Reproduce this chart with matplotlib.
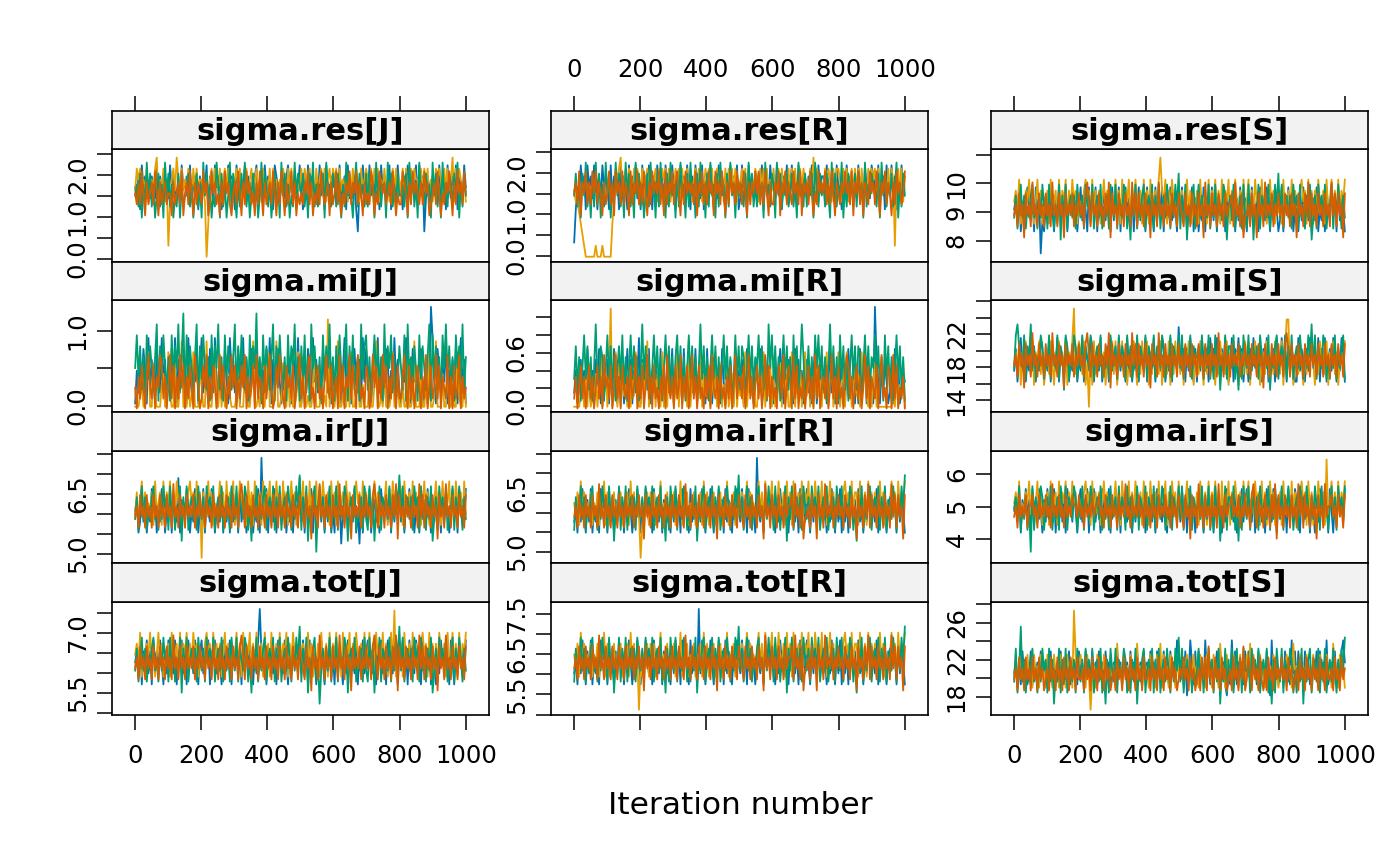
import numpy as np
import matplotlib
matplotlib.use("Agg")
import matplotlib.pyplot as plt

# ---------------------------------------------------------------------------
# Data: MCMC traces (4 chains, iterations 1..1000)
# at ~5-iteration resolution.  Each string holds levels 0..9 that span the
# visible data envelope (lo, hi) of its panel; each chain sits slightly
# offset (in fractions of one level).
# ---------------------------------------------------------------------------
chain_names = ["chain 1", "chain 2", "chain 3", "chain 4"]
chain_colors = ["#0072B2", "#E69F00", "#009E73", "#D55E00"]
chain_level_offsets = [0.15, -0.15, 0.4, -0.4]
n_iter = 1000
x_ticks = [0, 200, 400, 600, 800, 1000]

res_J_range = (0.095, 2.455)
res_J = [
    "6574867565 7658476576 5867657486 6758567647 5768476586 7645768576 4867568675 6578467586 7564876567 5786657468 "
    "6475867657 5867486576 7658567485 6574265867 5867657486 7568476586 6475867658 5867257657 6758567486 5768476586",
    "6878576857 7689576857 1578697586 7687586867 7650378687 6857868576 7868576857 8578675867 6858675768 7586858676 "
    "8687586758 6786857868 7858676857 6868758678 7586868576 8675786857 6858678687 7586868575 6878758686 7958687675",
    "5647364857 4635746385 7463547364 5574635746 3857463548 6374635847 5364758463 5746358476 4635746385 7463548576 "
    "5746375846 4657385647 6475364857 5368475647 4756385746 6385746475 5647385746 3856475638 5746385647 6475836475",
    "6575864756 7586475675 6647567584 6758647576 5867458675 6475867546 7586475867 5647586475 6758647586 4756857465 "
    "6576857465 7586567475 6857465768 5768576475 6587465876 7567586465 5876475867 6575867456 7586465768 6475867586",
]
res_R_range = (0.022, 2.41)
res_R = [
    "1465867486 7586475867 6485767485 7648576857 4867586475 8657486758 6475867586 4758675846 7586475867 6475867584 "
    "5867486757 6758476586 7586547685 6857486576 5768475867 7586657486 6475867657 5867486758 7658567486 6857475867",
    "6554321000 0001000100 0003587896 7868758687 6857868678 5868786857 6878586786 8578687568 7868578687 5868786857 "
    "6878586768 7586868576 8678586758 6858678687 7586968576 6878758688 7586857868 6858675868 7868586758 6871786857",
    "5746375846 3748573648 5736485746 3857463857 4635748563 7485637485 6374856374 8563748563 7485637485 6374856375 "
    "5647385746 4756385647 6385746574 5746385647 4657386475 6475385746 5836475647 4756384657 6547385746 5746836475",
    "6758476857 5868576475 6857486758 5764857685 7586475867 6857485768 5786475867 6758476857 5867486758 6475867586 "
    "7586475768 6857586475 5768476857 6586758476 7586465867 6857586476 5768675847 6857476586 7586476857 6475867568",
]
res_S_range = (7.5, 10.95)
res_S = [
    "4536243564 3526450324 5364253645 3625463524 6354263546 2534635426 3546253645 3625463542 6354263546 2534635426 "
    "4635243625 5243625436 3625436254 4352536425 2536435264 5364253642 3625463524 4253645362 5362435264 3645263542",
    "5647354657 4635746354 6374563746 5736475635 5467563746 4635746354 5746374657 3647546374 6374563796 5736475637 "
    "4635746354 6374563746 5746374657 3647546374 5736475637 4635746354 6374563746 5467563746 3647546374 5746374657",
    "3524635243 5634253645 2635243615 3624535264 3526453624 5362435264 3625436524 1536243562 4536253624 5364253647 "
    "2536143562 4635253624 3625436514 5362435263 2635143625 4536253647 3624535264 5263425361 3526453624 4625364253",
    "4536452645 3745364536 4537453645 2645463546 4536753645 3645364726 4536453645 3746364536 4526453745 3645364536 "
    "5436453645 3645274536 4536453645 5637453624 4536452645 3745463546 4536453645 2645364736 4536453645 3746364526",
]
mi_J_range = (0.012, 1.32)
mi_J = [
    "0314253061 4205316240 3152604135 2063142503 6142053162 0431520634 1250361420 5316240315 2604135203 3142053162 "
    "0241530624 1305241603 2415036214 0352140625 3104526130 2540316241 0326140523 1450230196 2053142603 1425036140",
    "0001200350 0410002300 5100400260 0030150004 2006100350 0402003100 0150003400 2600104003 5000260014 0030200150 "
    "0400100250 0030108040 0260010030 5001400200 0300260010 4000150030 0200400160 0030020500 1600030040 0200510030",
    "3625140625 3147052631 4062537148 0625314705 2631406253 7140625314 7052631406 2538140625 3147052631 4062537140 "
    "5261407352 1406253714 0526314705 2613407256 1403625140 7253614025 3160724153 0625314706 2514063725 1406352714",
    "2031420352 1403254130 2514031524 0314205320 1425031420 3514203152 4031425031 2405132041 3520142531 0423140235 "
    "1302451203 4120352140 2305140325 1420531204 3015240315 2403152041 1352041302 4203150241 2514032150 3041250312",
]
mi_R_range = (0.01, 1.12)
mi_R = [
    "1302413052 0314250312 4031520413 0251403126 0413250314 2051304125 0314205130 4125031420 5130241305 2031420513 "
    "1402531204 3150241302 0413520314 2305141302 4120350241 1302514030 2410352140 3051240312 0942031420 1305240132",
    "0000120304 0103025014 0390150403 1204031520 0413602140 3105020413 0250314206 0314025031 4203150240 2040130502 "
    "1305024130 0241503140 3012405130 0520314025 1403025140 3150240315 0240513042 1305241030 2400000000 0010302140",
    "2514036251 4037215403 6251403526 1403625140 3725140362 5140362514 0462514036 2514037251 4036251403 6251402625 "
    "1540362514 3625140736 2514036251 4062513740 2514063625 1403725140 6251403625 1540362514 3625140625 1403625140",
    "1302413024 1302413052 3140251304 2130412503 1402513041 2031405213 0412503140 2513041203 1405213041 2031402513 "
    "3140251302 4130251403 1204315024 3051402130 2413051402 3140251304 1203541302 4130251403 2140351204 3051402130",
]
mi_S_range = (13.4, 25.3)
mi_S = [
    "3524635243 6352436524 3625436254 3652436524 3625436524 5362435263 4526354263 5243625436 2543625436 5243625437 "
    "4352536425 2536435264 5364253642 3625463524 4253645362 5362435264 3645263542 2635425364 4536253624 5364253642",
    "4536253645 3625463524 5364253645 3625469356 5362405263 5463524536 3625463524 5364253645 6253645362 4536253645 "
    "3625463524 5364253645 4253645362 5463524536 3625463524 5364253645 3625883524 5364253645 4253645362 5463524536",
    "3675436254 7352436524 3625436254 1652436524 3625436524 5362435263 4526354263 5243625436 2543625436 5243625436 "
    "3625436254 4536253624 2635143625 5362415264 3624535264 2536143562 4536253624 5364253647 3625436524 2536243562",
    "4536452645 3745364536 4537453645 2645463546 4536753645 3645364726 4536453645 3746364536 4526453745 3645364536 "
    "4536453645 3645364536 4537453645 3645463546 4536453645 2645364536 4536753645 3645364536 4536453645 3645364536",
]
ir_J_range = (4.95, 7.4)
ir_J = [
    "4523635243 6352436524 3625437254 3652436524 3625436524 5362435263 4526354263 5243629436 2543625436 5243625437 "
    "3625436254 4536253624 2635143625 5362415264 3624535264 4536253645 3625463524 5264536425 3645263542 4635264536",
    "4635746354 6374563746 5736475635 5467563746 0635746354 5746374657 3647546374 6374563746 5736475637 4635746354 "
    "5746374657 3647546374 6374563746 5467563746 4635746354 5736475637 6374563746 4635746354 5746374657 3647546374",
    "3524635243 5634253645 2635243615 3624535264 3526453624 5362435264 3625436524 1536243562 4536253624 5364253647 "
    "2536143560 4635253624 3625436514 5362435263 2635143625 4536253647 3624535264 5263425361 3526453624 4625364253",
    "4536453645 3645364536 4537453645 3645463546 4536453645 3645364536 4536753645 3645364536 4536453645 3645364536 "
    "5436452645 3745364536 4537453645 2645463546 4536753645 3645364726 4536453645 3746364536 4526453745 3645364536",
]
ir_R_range = (4.9, 7.39)
ir_R = [
    "3425364253 6243526435 2634253645 2536425364 2536435264 5362543425 3645263542 6354253642 5364253645 2635425364 "
    "3645263542 9435264536 4253645362 5463526453 6425364536 3425364253 6243526435 2634253645 5362543425 3645263542",
    "5463746354 6354635473 6354635463 5463746354 0354636463 5473546354 6354735463 5463546374 6354635463 5473546354 "
    "4635746354 5746374657 3647546374 6374563746 5736475637 4635746354 5467563746 6374563746 4635746354 5746374657",
    "2534635243 5634253645 2635143625 3624535264 3526453624 5362415264 3625436524 2536143562 4536253624 5364253647 "
    "3524635243 5634253645 2635243615 3624535264 3526453624 5362435264 3625436524 1536243562 4536253624 5364253647",
    "4536453645 3645374536 4536453645 3645463546 4526453645 3645364536 4536453745 3645364536 4536452645 3645364536 "
    "5436453645 3645274536 4536453645 5637453624 4536452645 3745463546 4536453645 2645364736 4536453645 3746364526",
]
ir_S_range = (3.47, 6.5)
ir_S = [
    "4536254635 2645364253 6453625463 5264536425 6354625463 5426354625 4635264536 4253645362 5463526453 6425364536 "
    "3645263542 5364253645 2635425364 4536254635 6453625463 5264536425 4635264536 5426354625 4253645362 6425364536",
    "5647354657 4635746354 6374563746 5736475635 5467563746 4635746354 5746374657 3647546374 6374563746 5736475637 "
    "4635746354 6374563746 5746374657 3647546374 5736475637 4635746354 6374563746 5467563746 3647546394 5746374657",
    "4536243524 0625436524 5362435264 3625436524 3625436524 5362435263 4526354263 5243625436 2543625436 5243625436 "
    "3625436254 4536253624 2635143625 5362415264 3624535264 4536253645 3625463524 5264536425 3645263542 4635264536",
    "4536454635 5645364546 4537454645 3645465546 4536454645 5645364536 4536454745 3645464536 4536453645 4645364536 "
    "5436452645 3745364536 4537453645 5645463546 4536753645 3645364726 4536453645 3746364536 4526453745 5645364536",
]
tot_J_range = (5.12, 7.6)
tot_J = [
    "4536254635 2645364253 6453625463 5264536425 6354625463 5426354625 4635264536 4253695362 5463526453 6425364536 "
    "3645263542 5364253645 2635425364 4536254635 6453625463 5264536425 4635264536 5426354625 4253645362 6425364536",
    "5647354657 4635746354 6374563746 5736475635 5467563746 4635746354 5746374657 3647546374 6374563746 5736475637 "
    "4635746354 6374563746 5746374657 3647546374 5736475637 4635749354 6374563746 5467563746 3647546374 5746374657",
    "3524635243 5634253645 2635243615 3624535264 3526453624 5362435264 3625436524 1536243562 4536253624 5364253647 "
    "2536143562 4035253624 3625436514 5362435263 2635143625 4536253647 3624535264 5263425361 3526453624 4625364253",
    "4536453645 3645364536 4537453645 3645463546 4536453645 3645364536 4536753645 3645364536 4536453645 3645364536 "
    "5436452645 3745364536 4537453645 2645463546 4536753645 3645364726 4536453645 3746364536 4526453745 3645364536",
]
tot_R_range = (5.16, 7.62)
tot_R = [
    "3425364253 6243526435 2634253645 2536425364 2536435264 5362543425 3645263542 6354293642 5364253645 2635425364 "
    "3645263542 4435264536 4253645362 5463526453 6425364536 3425364253 6243526435 2634253645 5362543425 3645263542",
    "5463746354 6354635473 6354635463 5463746350 4354636463 5473546354 6354735463 5463546374 6354635463 5473546354 "
    "4635746354 5746374657 3647546374 6374563746 5736475637 4635746354 5467563746 6374563746 4635746354 5746374657",
    "2534635243 5634253645 2635143625 3624535264 3526453624 5362415264 3625436524 2536143562 4536253624 5364253647 "
    "3524635243 5634253645 2635243615 3624535264 3526453624 5362435264 3625436524 1536243562 4536253624 5364253647",
    "4536453645 3645374536 4536453645 3645463546 4526453645 3645364536 4536453745 3645364536 4536452645 3645364536 "
    "5436453645 3645274536 4536453645 5637453624 4536452645 3745463546 4536453645 2645364736 4536453645 3746364526",
]
tot_S_range = (16.8, 27.5)
tot_S = [
    "3424253423 5243425342 4352434253 2435243425 3425342534 2534253423 4253425342 5342534253 4253425342 5342534264 "
    "3425136425 2534263423 4352534213 2635243425 3524342534 4253162342 3425342635 2534253423 4352534262 3425243564",
    "3524534253 4253425342 5342534253 4253429534 5342530342 5342534253 4263425342 5342634253 4253425362 5342534253 "
    "3524534253 4253425342 5342634253 4253425342 5362534253 4253425342 3524534263 4253425342 5342534253 4263425342",
    "2513724132 4523142534 1524032514 2513424153 2415342513 4251304153 2514325413 1425032451 3425142513 4253142536 "
    "2513424132 3524142534 1425032514 2513524153 3415342513 4251304153 2514325413 1425032451 3425142513 4253142536",
    "3425342534 2534253423 4253425342 5342534253 3425342534 2534253423 4253425342 5342534253 3425342534 2534253423 "
    "4353425342 3425352634 2534253423 4253425362 3542534253 2425342534 3534253423 4253425342 5342534253 3425342534",
]

param_names = ["sigma.res", "sigma.mi", "sigma.ir", "sigma.tot"]
group_names = ["J", "R", "S"]

panel_data = [
    [(res_J, res_J_range), (res_R, res_R_range), (res_S, res_S_range)],
    [(mi_J, mi_J_range), (mi_R, mi_R_range), (mi_S, mi_S_range)],
    [(ir_J, ir_J_range), (ir_R, ir_R_range), (ir_S, ir_S_range)],
    [(tot_J, tot_J_range), (tot_R, tot_R_range), (tot_S, tot_S_range)],
]

# y-axis ticks per panel (tick values, labels shown)
y_ticks = [
    [([0, 0.5, 1, 1.5, 2, 2.5], ["0.0", "", "1.0", "", "2.0", ""]),
     ([0, 0.5, 1, 1.5, 2, 2.5], ["0.0", "", "1.0", "", "2.0", ""]),
     ([8, 9, 10, 11], ["8", "9", "10", ""])],
    [([0, 0.5, 1.0], ["0.0", "", "1.0"]),
     ([0, 0.2, 0.4, 0.6, 0.8, 1.0], ["0.0", "", "", "0.6", "", ""]),
     ([14, 16, 18, 20, 22, 24, 26], ["14", "", "18", "", "22", "", ""])],
    [([5, 5.5, 6, 6.5, 7, 7.5], ["5.0", "", "", "6.5", "", ""]),
     ([5, 5.5, 6, 6.5, 7, 7.5], ["5.0", "", "", "6.5", "", ""]),
     ([4, 5, 6], ["4", "5", "6"])],
    [([5, 5.5, 6, 6.5, 7, 7.5], ["", "5.5", "", "", "7.0", ""]),
     ([5, 5.5, 6, 6.5, 7, 7.5], ["", "5.5", "", "6.5", "", "7.5"]),
     ([18, 20, 22, 24, 26, 28], ["18", "", "22", "", "26", ""])],
]


def decode(levels, rng, offset=0.0):
    d = np.array([int(c) for c in levels if c.isdigit()], dtype=float)
    lo, hi = rng
    step = (hi - lo) / 9.0
    v = lo + (d + offset) * step
    return np.clip(v, lo - 0.3 * step, hi)


# ---------------------------------------------------------------------------
# Layout (lattice-like)
# ---------------------------------------------------------------------------
W, H = 1400, 866
plt.rcParams["font.family"] = ["DejaVu Sans"]
fig = plt.figure(figsize=(W / 100, H / 100), dpi=100)

col_left = [112, 551, 991]
col_w = 377
panel_top = [149, 300, 451, 602]
panel_bot = [262, 412, 563, 715]
strip_top = [111, 262, 412, 563]

pad_frac = 0.07
xlim = (1 - pad_frac * (n_iter - 1), n_iter + pad_frac * (n_iter - 1))

LW_BOX = 1.2
TICK_LEN = 11
TICK_FS = 17.5


def frac_rect(x0, ytop, w, ybot):
    return [x0 / W, 1 - ybot / H, w / W, (ybot - ytop) / H]


for r in range(4):
    for c in range(3):
        chains, rng = panel_data[r][c]
        ax = fig.add_axes(frac_rect(col_left[c], panel_top[r], col_w, panel_bot[r]))
        for s, col, off in zip(chains, chain_colors, chain_level_offsets):
            y = decode(s, rng, off)
            x = np.linspace(1, n_iter, len(y))
            ax.plot(x, y, color=col, lw=1.3)
        lo, hi = rng
        span = hi - lo
        ax.set_xlim(*xlim)
        ax.set_ylim(lo - pad_frac * span, hi + pad_frac * span)
        for sp in ax.spines.values():
            sp.set_linewidth(LW_BOX)
        ticks, labels = y_ticks[r][c]
        ax.set_yticks(ticks)
        ax.set_yticklabels(labels)
        ax.tick_params(axis="y", direction="out", length=TICK_LEN, width=1.1,
                       labelsize=TICK_FS, pad=5, labelrotation=90)
        for lab in ax.get_yticklabels():
            lab.set_va("center")
        if r == 3:
            ax.set_xticks(x_ticks)
            ax.set_xticklabels([str(t) for t in x_ticks] if c != 1 else [""] * len(x_ticks))
            ax.tick_params(axis="x", direction="out", length=TICK_LEN, width=1.1,
                           labelsize=TICK_FS, pad=10)
        else:
            ax.set_xticks([])

        # strip
        sx = fig.add_axes(frac_rect(col_left[c], strip_top[r], col_w, panel_top[r]))
        sx.set_facecolor("#F2F2F2")
        sx.set_xlim(*xlim)
        sx.set_ylim(0, 1)
        sx.set_yticks([])
        for sp in sx.spines.values():
            sp.set_linewidth(LW_BOX)
        sx.text(0.5, 0.47, f"{param_names[r]}[{group_names[c]}]", transform=sx.transAxes,
                ha="center", va="center", fontsize=22, fontweight="bold")
        if r == 0:
            sx.xaxis.set_ticks_position("top")
            sx.set_xticks(x_ticks)
            sx.set_xticklabels([str(t) for t in x_ticks] if c == 1 else [""] * len(x_ticks))
            sx.tick_params(axis="x", direction="out", length=TICK_LEN, width=1.1,
                           labelsize=TICK_FS, pad=10, top=True, bottom=False,
                           labeltop=True, labelbottom=False)
        else:
            sx.set_xticks([])

fig.text(740 / W, 1 - 806 / H, "Iteration number", ha="center", va="center", fontsize=22.5)

fig.savefig("out.png", dpi=100, facecolor="white")
